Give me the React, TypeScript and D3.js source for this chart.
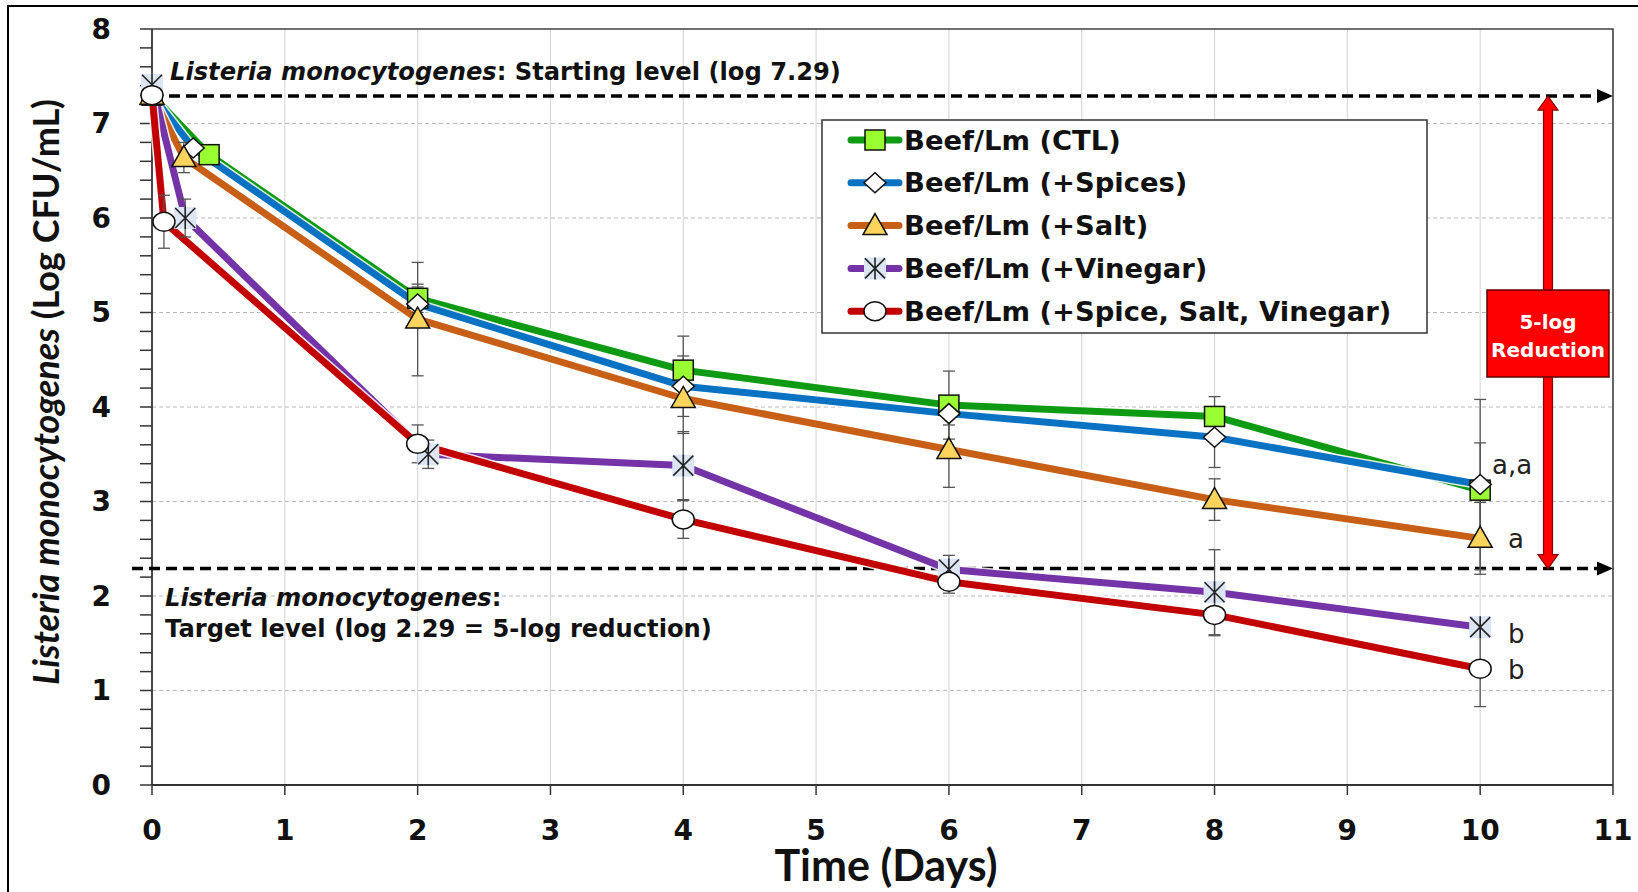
import React from "react";
import * as d3 from "d3";

// Listeria monocytogenes survival in beef jerky marinade treatments (log CFU/mL)
const seriesNames = [
  "Beef/Lm (CTL)",
  "Beef/Lm (+Spices)",
  "Beef/Lm (+Salt)",
  "Beef/Lm (+Vinegar)",
  "Beef/Lm (+Spice, Salt, Vinegar)",
];

const ctlDays = [0, 0.43, 2, 4, 6, 8, 10];
const ctlLog = [7.3, 6.67, 5.15, 4.39, 4.02, 3.9, 3.12];
const ctlErr = [0.05, 0.1, 0.15, 0.36, 0.36, 0.21, 0.5];

const spiceDays = [0, 0.31, 2, 4, 6, 8, 10];
const spiceLog = [7.3, 6.74, 5.09, 4.22, 3.93, 3.68, 3.18];
const spiceErr = [0.05, 0.05, 0.18, 0.32, 0.12, 0.32, 0.9];

const saltDays = [0, 0.24, 2, 4, 6, 8, 10];
const saltLog = [7.3, 6.64, 4.93, 4.09, 3.55, 3.02, 2.61];
const saltErr = [0.05, 0.16, 0.6, 0.37, 0.4, 0.22, 0.38];

const vinegarDays = [0, 0.25, 2.08, 4, 6, 8, 10];
const vinegarLog = [7.41, 6.0, 3.5, 3.38, 2.28, 2.04, 1.67];
const vinegarErr = [0.1, 0.2, 0.15, 0.36, 0.15, 0.45, 0.06];

const comboDays = [0, 0.09, 2, 4, 6, 8, 10];
const comboLog = [7.3, 5.96, 3.61, 2.81, 2.15, 1.8, 1.23];
const comboErr = [0.05, 0.28, 0.2, 0.2, 0.12, 0.22, 0.4];

const startLevel = 7.29;
const targetLevel = 2.29;

const xTicks = [0, 1, 2, 3, 4, 5, 6, 7, 8, 9, 10, 11];
const yTicks = [0, 1, 2, 3, 4, 5, 6, 7, 8];

const groupLetters = ["a,a", "a", "b", "b"];
const letterLevels = [3.39, 2.6, 1.6, 1.22];

type Marker = "square" | "diamond" | "triangle" | "asterisk" | "circle";

const series = [
  { name: seriesNames[0], days: ctlDays, log: ctlLog, err: ctlErr, color: "#0f9a14", marker: "square" as Marker, fill: "#99ff33" },
  { name: seriesNames[1], days: spiceDays, log: spiceLog, err: spiceErr, color: "#0a72c2", marker: "diamond" as Marker, fill: "#ffffff" },
  { name: seriesNames[2], days: saltDays, log: saltLog, err: saltErr, color: "#c85f16", marker: "triangle" as Marker, fill: "#ffd45c" },
  { name: seriesNames[3], days: vinegarDays, log: vinegarLog, err: vinegarErr, color: "#7433a6", marker: "asterisk" as Marker, fill: "#dce5f4" },
  { name: seriesNames[4], days: comboDays, log: comboLog, err: comboErr, color: "#c20000", marker: "circle" as Marker, fill: "#ffffff" },
];

const W = 1638;
const H = 892;
const plot = { left: 152, right: 1613, top: 29, bottom: 785 };

const x = d3.scaleLinear().domain([0, 11]).range([plot.left, plot.right]);
const y = d3.scaleLinear().domain([0, 8]).range([plot.bottom, plot.top]);

const BOLD = "'DejaVu Sans', sans-serif";

function MarkerShape({ kind, cx, cy, fill }: { kind: Marker; cx: number; cy: number; fill: string }) {
  const st = { stroke: "#111", strokeWidth: 1.5 };
  if (kind === "square") return <rect x={cx - 10} y={cy - 10} width={20} height={20} fill={fill} {...st} />;
  if (kind === "diamond")
    return <path d={`M${cx},${cy - 10}L${cx + 11},${cy}L${cx},${cy + 10}L${cx - 11},${cy}Z`} fill={fill} {...st} />;
  if (kind === "triangle")
    return <path d={`M${cx},${cy - 12}L${cx + 12},${cy + 9}L${cx - 12},${cy + 9}Z`} fill={fill} {...st} />;
  if (kind === "circle") return <ellipse cx={cx} cy={cy} rx={11} ry={9.5} fill={fill} {...st} />;
  const r = 10;
  return (
    <g>
      <rect x={cx - 11} y={cy - 11} width={22} height={22} fill={fill} />
      <path
        d={`M${cx - r},${cy - r}L${cx + r},${cy + r}M${cx + r},${cy - r}L${cx - r},${cy + r}M${cx},${cy - r - 1}L${cx},${cy + r + 1}`}
        stroke="#222"
        strokeWidth={1.6}
        fill="none"
      />
    </g>
  );
}

export default function App() {
  const line = d3
    .line<[number, number]>()
    .x((d) => x(d[0]))
    .y((d) => y(d[1]));

  const minorY = d3.range(0, 8.001, 0.2);
  const yStart = y(startLevel);
  const yTarget = y(targetLevel);
  const arrowX = 1548;

  const legend = { x: 822, y: 120, w: 605, h: 213, row0: 140, rowStep: 42.8 };

  return (
    <svg
      width={W}
      height={H}
      style={{ position: "absolute", left: 0, top: 0, display: "block", background: "#fff" }}
    >
      {/* outer frame */}
      <rect x={8} y={6} width={W} height={H} fill="none" stroke="#000" strokeWidth={2} />

      {/* grid */}
      {xTicks.slice(1, -1).map((t) => (
        <line key={`vx${t}`} x1={x(t)} x2={x(t)} y1={plot.top} y2={plot.bottom} stroke="#d9d9d9" strokeWidth={1.2} />
      ))}
      {yTicks.slice(1, -1).map((t) => (
        <line
          key={`hy${t}`}
          x1={plot.left}
          x2={plot.right}
          y1={y(t)}
          y2={y(t)}
          stroke="#b8b8b8"
          strokeWidth={1}
          strokeDasharray="4 3"
        />
      ))}

      {/* plot border */}
      <path
        d={`M${plot.left},${plot.top}H${plot.right}V${plot.bottom}`}
        fill="none"
        stroke="#404040"
        strokeWidth={1.6}
      />

      {/* y axis */}
      <line x1={plot.left} x2={plot.left} y1={plot.top} y2={plot.bottom} stroke="#333" strokeWidth={1.8} />
      {minorY.map((t, i) => (
        <line key={`ty${i}`} x1={plot.left - 12} x2={plot.left} y1={y(t)} y2={y(t)} stroke="#333" strokeWidth={1.5} />
      ))}
      {yTicks.map((t) => (
        <text
          key={`ly${t}`}
          x={111}
          y={y(t)}
          textAnchor="end"
          dominantBaseline="central"
          fontFamily={BOLD}
          fontWeight="bold"
          fontSize={28}
          fill="#111"
        >
          {t}
        </text>
      ))}

      {/* x axis */}
      <line x1={plot.left} x2={plot.right} y1={plot.bottom} y2={plot.bottom} stroke="#333" strokeWidth={2.2} />
      {xTicks.map((t) => (
        <line key={`tx${t}`} x1={x(t)} x2={x(t)} y1={plot.bottom} y2={plot.bottom + 10} stroke="#333" strokeWidth={1.5} />
      ))}
      {xTicks.map((t) => (
        <text
          key={`lx${t}`}
          x={x(t)}
          y={830}
          textAnchor="middle"
          dominantBaseline="central"
          fontFamily={BOLD}
          fontWeight="bold"
          fontSize={28}
          fill="#111"
        >
          {t}
        </text>
      ))}

      {/* axis titles */}
      <text
        x={886}
        y={881}
        textAnchor="middle"
        fontFamily="Lato, 'Open Sans', sans-serif"
        fontWeight="bold"
        fontSize={43}
        fill="#111"
      >
        Time (Days)
      </text>
      <text
        transform="translate(59,392) rotate(-90)"
        textAnchor="middle"
        fontFamily="Lato, 'Open Sans', sans-serif"
        fontWeight="bold"
        fontSize={36}
        fill="#111"
      >
        <tspan fontStyle="italic">Listeria monocytogenes</tspan> (Log CFU/mL)
      </text>

      {/* starting / target reference lines */}
      <line
        x1={plot.left}
        x2={plot.right - 12}
        y1={yStart}
        y2={yStart}
        stroke="#000"
        strokeWidth={3.5}
        strokeDasharray="11 6"
      />
      <path d={`M${plot.right},${yStart}l-16,-7v14Z`} fill="#000" />
      <line
        x1={132}
        x2={plot.right - 12}
        y1={yTarget}
        y2={yTarget}
        stroke="#000"
        strokeWidth={3.5}
        strokeDasharray="11 6"
      />
      <path d={`M${plot.right},${yTarget}l-16,-7v14Z`} fill="#000" />

      <text x={170} y={80} fontFamily={BOLD} fontWeight="bold" fontSize={24.2} fill="#111">
        <tspan fontStyle="italic">Listeria monocytogenes</tspan>: Starting level (log {startLevel})
      </text>
      <text x={165} y={606} fontFamily={BOLD} fontWeight="bold" fontSize={24.2} fill="#111">
        <tspan fontStyle="italic">Listeria monocytogenes</tspan>:
      </text>
      <text x={165} y={637} fontFamily={BOLD} fontWeight="bold" fontSize={24.2} fill="#111">
        Target level (log {targetLevel} = 5-log reduction)
      </text>

      {/* 5-log reduction double arrow */}
      <path
        d={`M${arrowX},${yStart}l10,14h-5.5V${yTarget - 14}h5.5l-10,14l-10,-14h5.5V${yStart + 14}h-5.5Z`}
        fill="#ff0000"
        stroke="#8a0000"
        strokeWidth={1.2}
      />
      <rect x={1487} y={290} width={122} height={87} fill="#ff0000" stroke="#5a0000" strokeWidth={1.5} />
      <text x={1548} y={322} textAnchor="middle" dominantBaseline="central" fontFamily={BOLD} fontWeight="bold" fontSize={20} fill="#fff">
        5-log
      </text>
      <text x={1548} y={350} textAnchor="middle" dominantBaseline="central" fontFamily={BOLD} fontWeight="bold" fontSize={20} fill="#fff">
        Reduction
      </text>

      {/* series lines */}
      {series.map((s) => {
        const pts = s.days.map((d, i) => [d, s.log[i]] as [number, number]);
        return (
          <g key={`ln${s.name}`}>
            <path d={line(pts) ?? ""} fill="none" stroke="#fff" strokeWidth={10} strokeLinejoin="round" opacity={0.85} />
            <path d={line(pts) ?? ""} fill="none" stroke={s.color} strokeWidth={7} strokeLinejoin="round" />
          </g>
        );
      })}

      {/* error bars */}
      {series.map((s) =>
        s.days.map((d, i) => {
          const cx = x(d);
          const y1 = y(s.log[i] + s.err[i]);
          const y2 = y(s.log[i] - s.err[i]);
          return (
            <g key={`eb${s.name}${i}`} stroke="#555" strokeWidth={1.3}>
              <line x1={cx} x2={cx} y1={y1} y2={y2} />
              <line x1={cx - 6} x2={cx + 6} y1={y1} y2={y1} />
              <line x1={cx - 6} x2={cx + 6} y1={y2} y2={y2} />
            </g>
          );
        })
      )}

      {/* markers */}
      {series.map((s) =>
        s.days.map((d, i) => (
          <MarkerShape key={`mk${s.name}${i}`} kind={s.marker} cx={x(d)} cy={y(s.log[i])} fill={s.fill} />
        ))
      )}

      {/* group letters at day 10 */}
      {groupLetters.map((g, i) => (
        <text
          key={`gl${i}`}
          x={i === 0 ? 1492 : 1508}
          y={y(letterLevels[i])}
          fontFamily={BOLD}
          fontSize={26}
          fill="#222"
          dominantBaseline="central"
        >
          {g}
        </text>
      ))}

      {/* legend */}
      <rect x={legend.x} y={legend.y} width={legend.w} height={legend.h} fill="#fff" stroke="#333" strokeWidth={1.5} />
      {series.map((s, i) => {
        const cy = legend.row0 + i * legend.rowStep;
        return (
          <g key={`lg${s.name}`}>
            <line x1={851} x2={899} y1={cy} y2={cy} stroke={s.color} strokeWidth={7} strokeLinecap="round" />
            <MarkerShape kind={s.marker} cx={875} cy={cy} fill={s.fill} />
            <text x={904} y={cy} dominantBaseline="central" fontFamily={BOLD} fontWeight="bold" fontSize={27.4} fill="#111">
              {s.name}
            </text>
          </g>
        );
      })}
    </svg>
  );
}
